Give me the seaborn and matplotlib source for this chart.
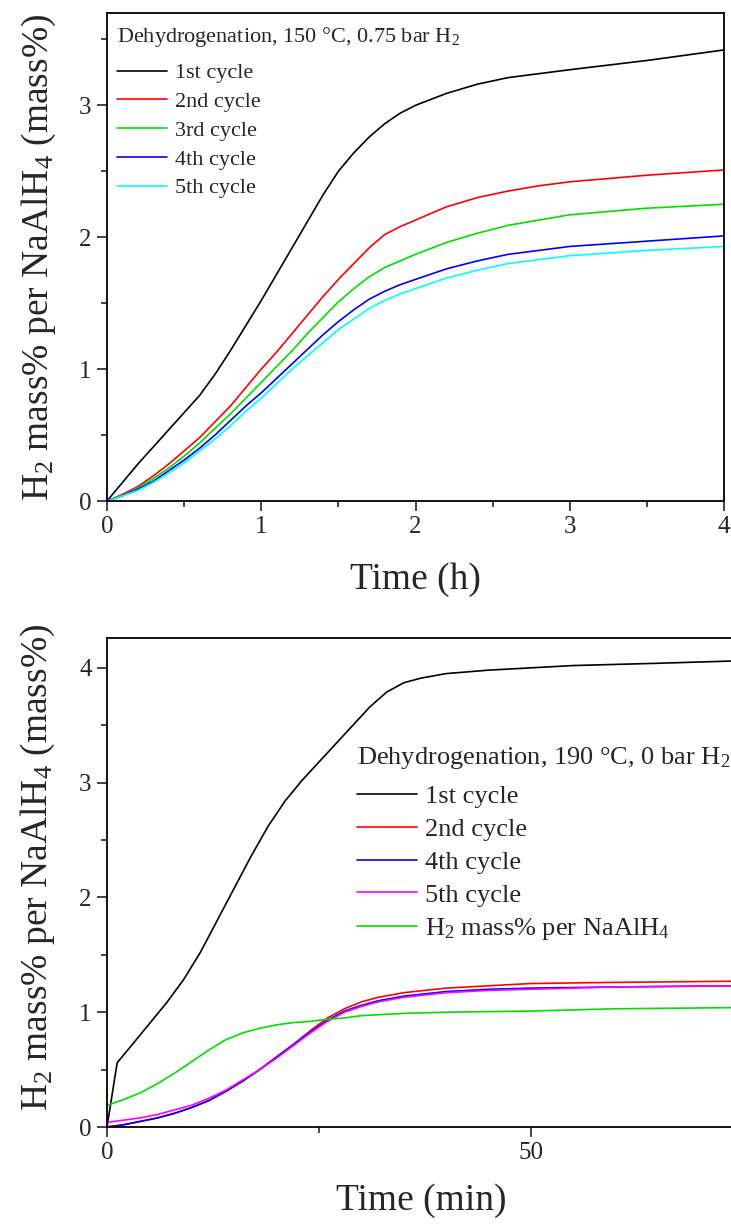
import numpy as np
import pandas as pd
import matplotlib
matplotlib.use("Agg")
import matplotlib.pyplot as plt
from matplotlib.ticker import MultipleLocator
import seaborn as sns

# ---------------- data: top panel (150 C, 0.75 bar H2) ----------------
t_hours = [0, 0.1, 0.2, 0.3, 0.4, 0.5, 0.6, 0.7, 0.8, 0.9, 1.0, 1.1, 1.2, 1.3,
           1.4, 1.5, 1.6, 1.7, 1.8, 1.9, 2.0, 2.2, 2.4, 2.6, 2.8, 3.0, 3.5, 4.0]
cycle1_top = [0, 0.14, 0.28, 0.41, 0.54, 0.67, 0.80, 0.96, 1.14, 1.33, 1.52, 1.72,
              1.92, 2.12, 2.32, 2.50, 2.64, 2.76, 2.86, 2.94, 3.00, 3.09, 3.16,
              3.21, 3.24, 3.27, 3.34, 3.42]
cycle2_top = [0, 0.05, 0.11, 0.19, 0.28, 0.38, 0.48, 0.60, 0.72, 0.86, 1.00, 1.13,
              1.27, 1.41, 1.55, 1.68, 1.80, 1.92, 2.02, 2.08, 2.13, 2.23, 2.30,
              2.35, 2.39, 2.42, 2.47, 2.51]
cycle3_top = [0, 0.04, 0.10, 0.17, 0.25, 0.34, 0.44, 0.55, 0.66, 0.78, 0.90, 1.02,
              1.14, 1.27, 1.39, 1.51, 1.61, 1.70, 1.77, 1.82, 1.87, 1.96, 2.03,
              2.09, 2.13, 2.17, 2.22, 2.25]
cycle4_top = [0, 0.04, 0.09, 0.15, 0.23, 0.31, 0.40, 0.50, 0.61, 0.72, 0.82, 0.93,
              1.04, 1.15, 1.26, 1.36, 1.45, 1.53, 1.59, 1.64, 1.68, 1.76, 1.82,
              1.87, 1.90, 1.93, 1.97, 2.01]
cycle5_top = [0, 0.04, 0.08, 0.14, 0.21, 0.29, 0.38, 0.47, 0.57, 0.68, 0.78, 0.89,
              1.00, 1.10, 1.20, 1.30, 1.38, 1.46, 1.52, 1.57, 1.61, 1.69, 1.75,
              1.80, 1.83, 1.86, 1.90, 1.93]
top_labels = ["1st cycle", "2nd cycle", "3rd cycle", "4th cycle", "5th cycle"]
top_colors = ["#000000", "#ff0000", "#00e000", "#0000ff", "#00ffff"]
top_title = "Dehydrogenation, 150 °C, 0.75 bar H$_2$"

# ---------------- data: bottom panel (190 C, 0 bar H2) ----------------
t_min_c1 = [0, 1.2, 3, 5, 7, 9, 11, 13, 15, 17, 19, 21, 23, 25, 27, 29, 31, 33,
            35, 37, 40, 45, 50, 55, 60, 65, 74]
cycle1_bot = [0, 0.56, 0.72, 0.90, 1.08, 1.28, 1.52, 1.80, 2.08, 2.36, 2.62, 2.84,
              3.02, 3.18, 3.34, 3.50, 3.66, 3.79, 3.87, 3.91, 3.95, 3.98, 4.00,
              4.02, 4.03, 4.04, 4.06]
t_min_cyc = [0, 2, 4, 6, 8, 10, 12, 14, 16, 18, 20, 22, 24, 26, 28, 30, 32, 35,
             40, 45, 50, 60, 74]
cycle2_bot = [0, 0.02, 0.05, 0.08, 0.12, 0.17, 0.23, 0.31, 0.40, 0.50, 0.61, 0.72,
              0.84, 0.95, 1.03, 1.09, 1.13, 1.17, 1.21, 1.23, 1.25, 1.26, 1.27]
cycle4_bot = [0, 0.02, 0.05, 0.08, 0.12, 0.17, 0.23, 0.31, 0.40, 0.50, 0.61, 0.72,
              0.83, 0.93, 1.01, 1.06, 1.10, 1.14, 1.18, 1.20, 1.21, 1.22, 1.23]
cycle5_bot = [0.04, 0.06, 0.08, 0.11, 0.15, 0.19, 0.25, 0.32, 0.41, 0.50, 0.60, 0.71,
              0.82, 0.92, 1.00, 1.05, 1.09, 1.13, 1.17, 1.19, 1.20, 1.22, 1.23]
t_min_h2 = [0, 2, 4, 6, 8, 10, 12, 14, 16, 18, 20, 22, 24, 26, 28, 30, 35, 40,
            50, 60, 74]
h2_bot = [0.19, 0.24, 0.30, 0.38, 0.47, 0.57, 0.67, 0.76, 0.82, 0.86, 0.89, 0.91,
          0.92, 0.94, 0.95, 0.97, 0.99, 1.00, 1.01, 1.03, 1.04]
bot_labels = ["1st cycle", "2nd cycle", "4th cycle", "5th cycle",
              "H$_2$ mass% per NaAlH$_4$"]
bot_colors = ["#000000", "#ff0000", "#0000ff", "#ff00ff", "#00e000"]
bot_title = "Dehydrogenation, 190 °C, 0 bar H$_2$"

# ---------------- long-format tables ----------------
top_df = pd.concat([
    pd.DataFrame({"x": t_hours, "y": ys, "series": lab})
    for ys, lab in zip([cycle1_top, cycle2_top, cycle3_top, cycle4_top, cycle5_top],
                       top_labels)
], ignore_index=True)

bot_df = pd.concat([
    pd.DataFrame({"x": xs, "y": ys, "series": lab})
    for xs, ys, lab in zip([t_min_c1, t_min_cyc, t_min_cyc, t_min_cyc, t_min_h2],
                           [cycle1_bot, cycle2_bot, cycle4_bot, cycle5_bot, h2_bot],
                           bot_labels)
], ignore_index=True)

# ---------------- style ----------------
sns.set_theme(style="ticks")
plt.rcParams["font.family"] = ["Liberation Serif", "DejaVu Serif"]
plt.rcParams["mathtext.fontset"] = "custom"
plt.rcParams["mathtext.rm"] = "Liberation Serif"
plt.rcParams["mathtext.it"] = "Liberation Serif:italic"
plt.rcParams["axes.linewidth"] = 1.3
plt.rcParams["xtick.direction"] = "out"
plt.rcParams["ytick.direction"] = "out"

fig = plt.figure(figsize=(7.31, 12.24), dpi=100)
W, H = 731.0, 1224.0
ax1 = fig.add_axes([107 / W, 1 - 501 / H, (724 - 107) / W, (501 - 13) / H])
ax2 = fig.add_axes([107 / W, 1 - 1127 / H, (734.5 - 107) / W, (1127 - 638) / H])

sns.lineplot(data=top_df, x="x", y="y", hue="series", hue_order=top_labels,
             palette=top_colors, linewidth=1.2, ax=ax1, sort=True,
             estimator=None)
sns.lineplot(data=bot_df, x="x", y="y", hue="series", hue_order=bot_labels,
             palette=bot_colors, linewidth=1.2, ax=ax2, sort=True,
             estimator=None)

ylabel = "H$_2$ mass% per NaAlH$_4$ (mass%)"

# top axes
ax1.set_xlim(0, 4)
ax1.set_ylim(0, 3.7)
ax1.xaxis.set_major_locator(MultipleLocator(1))
ax1.xaxis.set_minor_locator(MultipleLocator(0.5))
ax1.yaxis.set_major_locator(MultipleLocator(1))
ax1.yaxis.set_minor_locator(MultipleLocator(0.5))
ax1.set_xlabel("Time (h)", fontsize=27, labelpad=17)
ax1.set_ylabel(ylabel, fontsize=27)
ax1.yaxis.set_label_coords(-0.080, 0.5)

# bottom axes
ax2.set_xlim(0, 74)
ax2.set_ylim(0, 4.26)
ax2.xaxis.set_major_locator(MultipleLocator(50))
ax2.xaxis.set_minor_locator(MultipleLocator(25))
ax2.yaxis.set_major_locator(MultipleLocator(1))
ax2.yaxis.set_minor_locator(MultipleLocator(0.5))
ax2.set_xlabel("Time (min)", fontsize=27, labelpad=14)
ax2.set_ylabel(ylabel, fontsize=27)
ax2.yaxis.set_label_coords(-0.079, 0.53)

for ax in (ax1, ax2):
    ax.tick_params(which="major", length=7, width=1.2, labelsize=18, pad=4)
    ax.tick_params(which="minor", length=4, width=1.2)
    for s in ax.spines.values():
        s.set_visible(True)
        s.set_linewidth(1.3)
        s.set_color("black")

# legends (titles drawn as separate text)
h1, l1 = ax1.get_legend_handles_labels()
leg1 = ax1.legend(h1, l1, loc="upper left", bbox_to_anchor=(0.0162, 0.898),
                  frameon=False, fontsize=16, handlelength=2.25,
                  handletextpad=0.35, labelspacing=0.37, borderaxespad=0.0,
                  borderpad=0.0)
for ln in leg1.get_lines():
    ln.set_linewidth(1.2)
ax1.text(0.0162, 0.9406, top_title, transform=ax1.transAxes, fontsize=16,
         ha="left", va="baseline")

h2, l2 = ax2.get_legend_handles_labels()
leg2 = ax2.legend(h2, l2, loc="upper left", bbox_to_anchor=(0.398, 0.6995),
                  frameon=False, fontsize=19, handlelength=2.3,
                  handletextpad=0.3, labelspacing=0.35, borderaxespad=0.0,
                  borderpad=0.0)
for ln in leg2.get_lines():
    ln.set_linewidth(1.2)
ax2.text(0.398, 0.742, bot_title, transform=ax2.transAxes, fontsize=19,
         ha="left", va="baseline")

fig.savefig("out.png", dpi=100)
